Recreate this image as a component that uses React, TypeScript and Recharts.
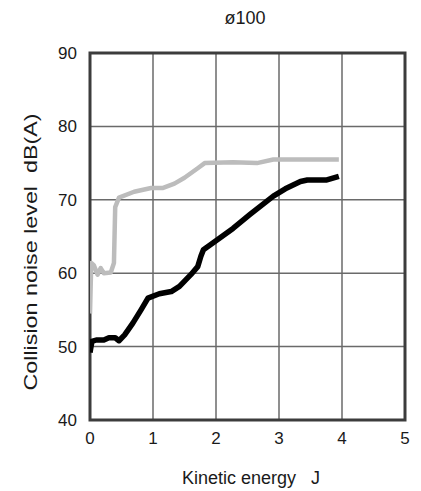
import React from 'react';
import { LineChart, Line, XAxis, YAxis, CartesianGrid, ReferenceArea, Label } from 'recharts';

const title = 'ø100';
const xTitle = 'Kinetic energy   J';
const yTitle = 'Collision noise level  dB(A)';
const xTicks = [0, 1, 2, 3, 4, 5];
const yTicks = [40, 50, 60, 70, 80, 90];

const blackX = [0, 0.03, 0.1, 0.22, 0.3, 0.4, 0.46, 0.55, 0.68, 0.81, 0.92, 1.1, 1.29, 1.42, 1.6, 1.71, 1.76, 1.8, 1.95, 2.27, 2.54, 2.91, 3.1, 3.34, 3.45, 3.76, 3.95];
const blackY = [49.2, 50.7, 50.9, 50.9, 51.2, 51.2, 50.8, 51.6, 53.2, 55, 56.6, 57.2, 57.5, 58.2, 59.8, 60.9, 62.3, 63.2, 64.1, 66.1, 68, 70.5, 71.5, 72.5, 72.7, 72.7, 73.2];

const grayX = [0, 0.01, 0.02, 0.06, 0.12, 0.17, 0.22, 0.33, 0.38, 0.4, 0.46, 0.7, 0.97, 1.15, 1.34, 1.5, 1.71, 1.82, 2.27, 2.65, 2.91, 3.95];
const grayY = [54.5, 58, 61.4, 61.1, 59.8, 60.7, 60, 60.1, 61.4, 69, 70.3, 71.1, 71.6, 71.6, 72.2, 73, 74.3, 75, 75.1, 75, 75.5, 75.5];

const blackData = blackX.map((x, i) => ({ x, y: blackY[i] }));
const grayData = grayX.map((x, i) => ({ x, y: grayY[i] }));

const FONT = '"Liberation Sans", Arial, sans-serif';

export default function App() {
  return (
    <div style={{ position: 'absolute', left: 0, top: 0, width: 421, height: 491, background: '#fff' }}>
      <div style={{ position: 'absolute', left: 0, width: 490, top: 6, textAlign: 'center', fontFamily: FONT, fontSize: 18, color: '#1a1a1a', lineHeight: '24px' }}>
        {title}
      </div>
      <LineChart width={421} height={491} margin={{ top: 53, right: 16, bottom: 41, left: 0 }}>
        <CartesianGrid stroke="#6a6a6a" strokeWidth={1.5} />
        <XAxis
          type="number"
          dataKey="x"
          domain={[0, 5]}
          ticks={xTicks}
          allowDataOverflow
          height={30}
          axisLine={false}
          tickLine={false}
          tickSize={0}
          tickMargin={12}
          tick={{ fill: '#1a1a1a', fontSize: 17, fontFamily: FONT }}
        >
          <Label
            content={() => (
              <text x={251} y={478} textAnchor="middle" dominantBaseline="central" fill="#1a1a1a" fontSize={18} fontFamily={FONT} style={{ whiteSpace: 'pre' }}>
                {xTitle}
              </text>
            )}
          />
        </XAxis>
        <YAxis
          type="number"
          dataKey="y"
          domain={[40, 90]}
          ticks={yTicks}
          allowDataOverflow
          width={90}
          axisLine={false}
          tickLine={false}
          tickSize={0}
          tickMargin={13}
          tick={{ fill: '#1a1a1a', fontSize: 17, fontFamily: FONT }}
        >
          <Label
            content={() => (
              <text
                x={31}
                y={252}
                transform="rotate(-90 31 252)"
                textAnchor="middle"
                dominantBaseline="central"
                fill="#1a1a1a"
                fontSize={18}
                fontFamily={FONT}
                textLength={277}
                lengthAdjust="spacingAndGlyphs"
                style={{ whiteSpace: 'pre' }}
              >
                {yTitle}
              </text>
            )}
          />
        </YAxis>
        <ReferenceArea x1={0} x2={5} y1={40} y2={90} fill="none" fillOpacity={0} stroke="#3c3c3c" strokeWidth={3} ifOverflow="visible" />
        <Line data={grayData} dataKey="y" type="linear" stroke="#bcbcbc" strokeWidth={4.5} dot={false} isAnimationActive={false} strokeLinejoin="round" />
        <Line data={blackData} dataKey="y" type="linear" stroke="#000" strokeWidth={5.5} dot={false} isAnimationActive={false} strokeLinejoin="round" />
      </LineChart>
    </div>
  );
}
